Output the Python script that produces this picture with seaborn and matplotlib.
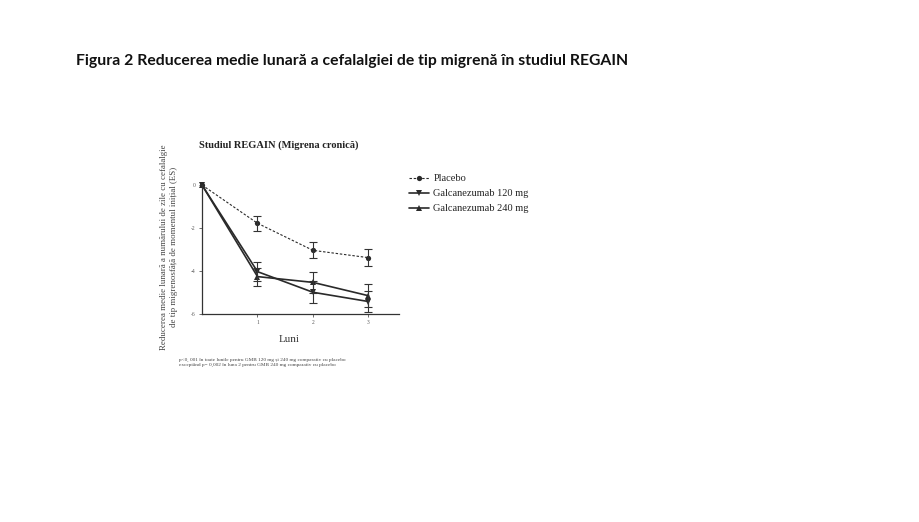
import matplotlib
matplotlib.use("Agg")
import matplotlib.pyplot as plt
import seaborn as sns
import pandas as pd

months = [0, 1, 2, 3]
placebo = [0.0, -1.78, -3.04, -3.38]
placebo_se = [0.0, 0.35, 0.37, 0.40]
g120 = [0.0, -4.03, -4.99, -5.42]
g120_se = [0.0, 0.44, 0.51, 0.49]
g240 = [0.0, -4.26, -4.53, -5.15]
g240_se = [0.0, 0.42, 0.49, 0.53]
series_names = ["Placebo", "Galcanezumab 120 mg", "Galcanezumab 240 mg"]
x_ticks = [1, 2, 3]
y_ticks = [0, -2, -4, -6]
y_tick_labels = ["0", "-2", "-4", "-6"]

sns.set_theme(style="white")
plt.rcParams['font.family'] = ['Liberation Serif', 'DejaVu Serif']
SERIF = ['Liberation Serif', 'DejaVu Serif']

fig = plt.figure(figsize=(9.2, 5.22), dpi=100)
fig.patch.set_facecolor("white")
ax = fig.add_axes([202/920, 1-314/522, 197/920, 129/522])
ax.set_facecolor("white")

rows = []
for name, vals, ses in zip(series_names, [placebo, g120, g240], [placebo_se, g120_se, g240_se]):
    for m, v, s in zip(months, vals, ses):
        rows.append({"Luni": m, "val": v, "se": s, "Grup": name})
df = pd.DataFrame(rows)

styles = {
    "Placebo": dict(marker="o", ls=(0, (2.2, 1.6)), lw=0.8, color="#2a2a2a"),
    "Galcanezumab 120 mg": dict(marker="v", ls="-", lw=1.2, color="#2a2a2a"),
    "Galcanezumab 240 mg": dict(marker="^", ls="-", lw=1.2, color="#2a2a2a"),
}

for name in series_names:
    sub = df[df["Grup"] == name]
    st = styles[name]
    sns.lineplot(data=sub, x="Luni", y="val", ax=ax, color=st["color"], linestyle=st["ls"],
                 linewidth=st["lw"], marker=st["marker"], markersize=3.8, markeredgewidth=0,
                 label=name, clip_on=False, errorbar=None)
    e = sub[sub["Luni"] > 0]
    ax.errorbar(e["Luni"], e["val"], yerr=e["se"], fmt="none", ecolor="#333333",
                elinewidth=0.8, capsize=2.8, capthick=0.8, clip_on=False)

ax.set_xlim(0, 3.55)
ax.set_ylim(-6, 0)
ax.set_xticks(x_ticks)
ax.set_xticklabels([str(t) for t in x_ticks])
ax.set_yticks(y_ticks)
ax.set_yticklabels(y_tick_labels)
for s in ["top", "right"]:
    ax.spines[s].set_visible(False)
for s in ["left", "bottom"]:
    ax.spines[s].set_color("#333333")
    ax.spines[s].set_linewidth(0.9)
ax.tick_params(axis="both", which="major", direction="out", length=2.5, width=0.6,
               color="#555555", labelsize=4, labelcolor="#555555", pad=2,
               left=True, bottom=True)
ax.set_xlabel("")
ax.set_ylabel("")

fig.text(279/920, 1-145/522, "Studiul REGAIN (Migrena cronică)",
         ha="center", va="center", fontsize=7.5, fontweight="bold", color="#222222",
         family=SERIF)
fig.text(289/920, 1-339/522, "Luni", ha="center", va="center", fontsize=8,
         color="#333333", family=SERIF)
fig.text(169/920, 1-247/522,
         "Reducerea medie lunară a numărului de zile cu cefalalgie\nde tip migrenosfăță de momentul inițial (ES)",
         rotation=90, ha="center", va="center", fontsize=6.4, color="#444444",
         linespacing=1.25, family=SERIF)
fig.text(179/920, 1-362.5/522,
         "p<0, 001 în toate lunile pentru GMB 120 mg și 240 mg comparativ cu placebo\n"
         "exceptând p= 0,002 în luna 2 pentru GMB 240 mg comparativ cu placebo",
         ha="left", va="center", fontsize=3.8, color="#444444", linespacing=1.3,
         family=SERIF)

leg = ax.legend(loc="upper left", bbox_to_anchor=(409/920, 1-174/522),
                bbox_transform=fig.transFigure, frameon=False,
                prop={"family": SERIF, "size": 7.5}, handlelength=1.9,
                handletextpad=0.45, labelspacing=0.55, borderpad=0, borderaxespad=0)
for t in leg.get_texts():
    t.set_color("#222222")

fig.text(76/920, 1-61/522,
         "Figura 2 Reducerea medie lunară a cefalalgiei de tip migrenă în studiul REGAIN",
         ha="left", va="center", fontsize=11.3, fontweight="bold", color="#111111",
         family=["Lato", "DejaVu Sans"])

fig.savefig("out.png", dpi=100, facecolor="white")
